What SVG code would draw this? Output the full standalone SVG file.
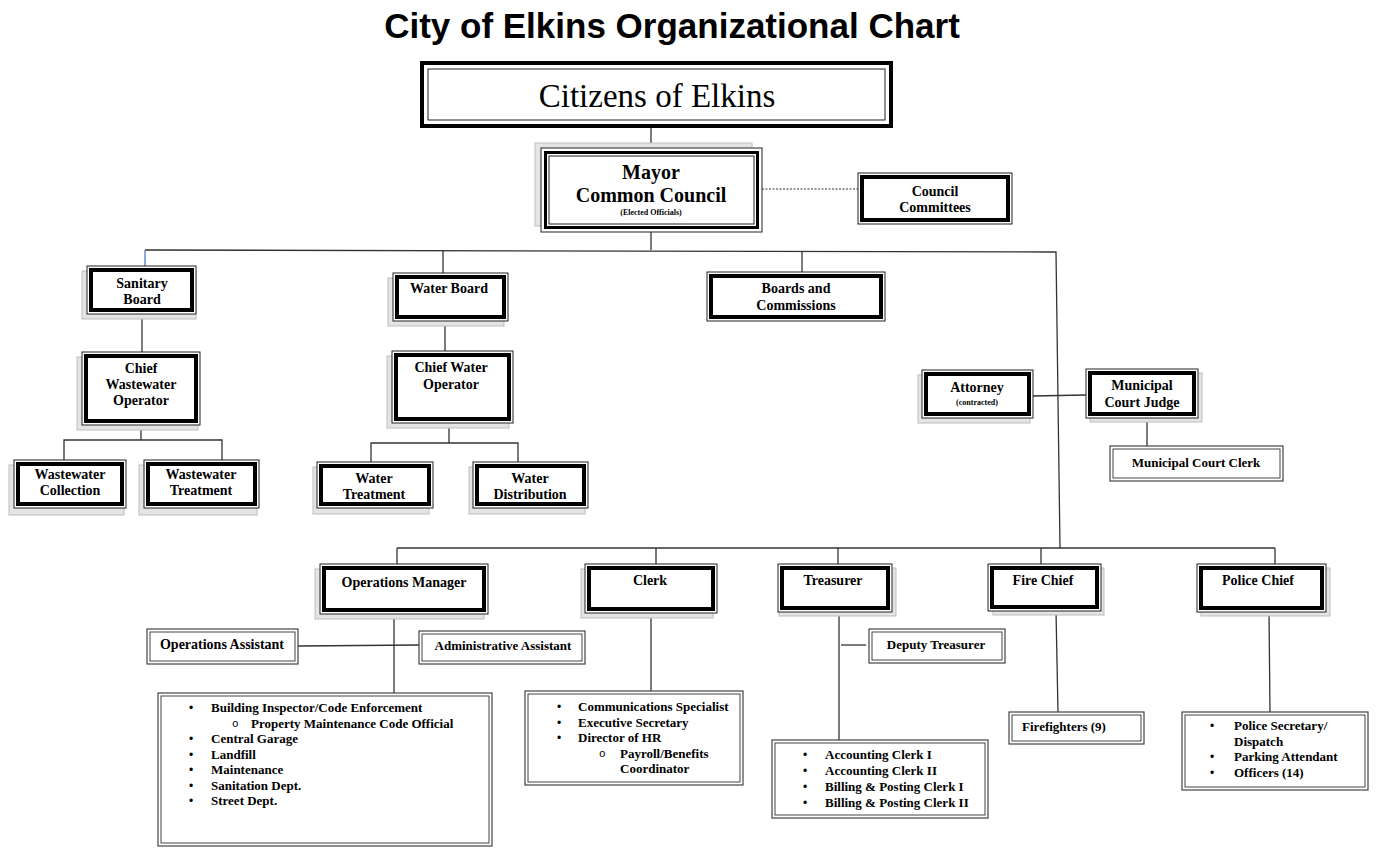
<svg xmlns="http://www.w3.org/2000/svg" width="1377" height="848" viewBox="0 0 1377 848">
<style>
.bg{fill:#fff}
.o{fill:#fff;stroke:#222;stroke-width:1}
.k{fill:none;stroke:#000;stroke-width:4}
.t{fill:none;stroke:#222;stroke-width:1}
.sh{fill:#e4e4e4;stroke:#bdbdbd;stroke-width:1}
.d{fill:#fff;stroke:#444;stroke-width:1.2}
.di{fill:none;stroke:#444;stroke-width:1}
.ln{fill:none;stroke:#333;stroke-width:1.3}
.dot{fill:none;stroke:#333;stroke-width:1;stroke-dasharray:2 1.5}
.n{font-family:"Liberation Serif","Times New Roman",serif;font-weight:bold;font-size:14px;text-anchor:middle;fill:#000}
.s{font-family:"Liberation Serif","Times New Roman",serif;font-weight:bold;font-size:13px;fill:#000}
.sm{text-anchor:middle}
.big{font-size:20px}
.tiny{font-size:8px}
.b{font-family:"Liberation Sans",Arial,sans-serif;font-size:12px;fill:#000}
.c{font-family:"Liberation Mono","Courier New",monospace;font-size:11px;fill:#000}
.title{font-family:"Liberation Sans",Arial,sans-serif;font-weight:bold;font-size:35px;text-anchor:middle;fill:#000}
.cit{font-family:"Liberation Serif","Times New Roman",serif;font-size:33px;text-anchor:middle;fill:#000}
</style>
<rect class="bg" x="0" y="0" width="1377" height="848"/>
<text class="title" x="672" y="38">City of Elkins Organizational Chart</text>

<g id="connectors">
<line class="ln" x1="651" y1="128" x2="651" y2="148"/>
<line class="ln" x1="651" y1="232" x2="651" y2="250"/>
<line class="dot" x1="762" y1="189" x2="858" y2="189"/>
<polyline class="ln" points="145,250 1056,252 1060,548"/>
<line x1="145" y1="250" x2="145" y2="266" stroke="#4a7fc1" stroke-width="1.3"/>
<line class="ln" x1="443" y1="250" x2="443" y2="273"/>
<line class="ln" x1="802" y1="251" x2="802" y2="272"/>
<line class="ln" x1="142" y1="314" x2="142" y2="352"/>
<line class="ln" x1="141" y1="425" x2="141" y2="440"/>
<polyline class="ln" points="64,460 64,440 222,440 222,460"/>
<line class="ln" x1="445" y1="321" x2="445" y2="351"/>
<line class="ln" x1="449" y1="423" x2="449" y2="443"/>
<polyline class="ln" points="371,462 371,443 518,443 518,462"/>
<line class="ln" x1="1033" y1="396" x2="1086" y2="395"/>
<line class="ln" x1="1147" y1="418" x2="1147" y2="446"/>
<line class="ln" x1="397" y1="548" x2="1275" y2="548"/>
<line class="ln" x1="397" y1="548" x2="397" y2="564"/>
<line class="ln" x1="656" y1="548" x2="656" y2="564"/>
<line class="ln" x1="838" y1="548" x2="838" y2="564"/>
<line class="ln" x1="1041" y1="548" x2="1041" y2="564"/>
<line class="ln" x1="1275" y1="548" x2="1275" y2="564"/>
<line class="ln" x1="394" y1="614" x2="394" y2="693"/>
<line class="ln" x1="298" y1="646" x2="419" y2="645"/>
<line class="ln" x1="651" y1="613" x2="651" y2="691"/>
<line class="ln" x1="839" y1="612" x2="839" y2="740"/>
<line class="ln" x1="841" y1="645" x2="866" y2="645"/>
<line class="ln" x1="1056" y1="611" x2="1058" y2="712"/>
<line class="ln" x1="1269" y1="612" x2="1270" y2="712"/>
</g>

<g id="citizens">
<rect x="422" y="63" width="469" height="63" fill="#fff" stroke="#000" stroke-width="4"/>
<rect class="t" x="428" y="69" width="457" height="51"/>
<text class="cit" x="657" y="107">Citizens of Elkins</text>
</g>

<g id="mayor">
<rect class="sh" x="535" y="143" width="217" height="83"/>
<rect class="o" x="541" y="148" width="221" height="84"/>
<rect fill="none" stroke="#000" stroke-width="3" x="545.5" y="152.5" width="212" height="75"/>
<rect class="t" x="549" y="156" width="205" height="68"/>
<text class="n big" x="651" y="179">Mayor</text>
<text class="n big" x="651" y="202">Common Council</text>
<text class="n tiny" x="651" y="215">(Elected Officials)</text>
</g>

<g id="council-committees">
<rect class="o" x="858" y="173" width="154" height="51"/>
<rect class="k" x="862" y="177" width="146" height="43"/>
<text class="n" x="935" y="196">Council</text>
<text class="n" x="935" y="212">Committees</text>
</g>

<g id="sanitary-board">
<rect class="sh" x="82" y="271" width="114" height="48"/>
<rect class="o" x="87" y="266" width="109" height="48"/>
<rect class="k" x="91" y="270" width="101" height="40"/>
<text class="n" x="142" y="288">Sanitary</text>
<text class="n" x="142" y="304">Board</text>
</g>

<g id="chief-wastewater">
<rect class="sh" x="77" y="357" width="121" height="73"/>
<rect class="o" x="82" y="352" width="118" height="73"/>
<rect class="k" x="86" y="356" width="110" height="65"/>
<text class="n" x="141" y="373">Chief</text>
<text class="n" x="141" y="389">Wastewater</text>
<text class="n" x="141" y="405">Operator</text>
</g>

<g id="wastewater-collection">
<rect class="sh" x="9" y="465" width="115" height="50"/>
<rect class="o" x="14" y="460" width="112" height="48"/>
<rect class="k" x="18" y="464" width="104" height="40"/>
<text class="n" x="70" y="479">Wastewater</text>
<text class="n" x="70" y="495">Collection</text>
</g>

<g id="wastewater-treatment">
<rect class="sh" x="139" y="465" width="118" height="50"/>
<rect class="o" x="144" y="460" width="115" height="48"/>
<rect class="k" x="148" y="464" width="107" height="40"/>
<text class="n" x="201" y="479">Wastewater</text>
<text class="n" x="201" y="495">Treatment</text>
</g>

<g id="water-board">
<rect class="sh" x="388" y="278" width="116" height="48"/>
<rect class="o" x="393" y="273" width="115" height="48"/>
<rect class="k" x="397" y="277" width="107" height="40"/>
<text class="n" x="449" y="293">Water Board</text>
</g>

<g id="chief-water">
<rect class="sh" x="387" y="356" width="122" height="72"/>
<rect class="o" x="392" y="351" width="121" height="72"/>
<rect class="k" x="396" y="355" width="113" height="64"/>
<text class="n" x="451" y="372">Chief Water</text>
<text class="n" x="451" y="389">Operator</text>
</g>

<g id="water-treatment">
<rect class="sh" x="313" y="467" width="116" height="47"/>
<rect class="o" x="317" y="462" width="116" height="46"/>
<rect class="k" x="321" y="466" width="108" height="38"/>
<text class="n" x="374" y="483">Water</text>
<text class="n" x="374" y="499">Treatment</text>
</g>

<g id="water-distribution">
<rect class="sh" x="469" y="467" width="116" height="47"/>
<rect class="o" x="473" y="462" width="115" height="46"/>
<rect class="k" x="477" y="466" width="107" height="38"/>
<text class="n" x="530" y="483">Water</text>
<text class="n" x="530" y="499">Distribution</text>
</g>

<g id="boards-commissions">
<rect class="o" x="707" y="272" width="178" height="49"/>
<rect class="k" x="711" y="276" width="170" height="41"/>
<text class="n" x="796" y="293">Boards and</text>
<text class="n" x="796" y="310">Commissions</text>
</g>

<g id="attorney">
<rect class="sh" x="918" y="375" width="112" height="48"/>
<rect class="o" x="922" y="370" width="111" height="48"/>
<rect class="k" x="926" y="374" width="103" height="40"/>
<text class="n" x="977" y="392">Attorney</text>
<text class="n tiny" x="977" y="405">(contracted)</text>
</g>

<g id="municipal-court-judge">
<rect class="sh" x="1090" y="373" width="112" height="49"/>
<rect class="o" x="1086" y="369" width="112" height="49"/>
<rect class="k" x="1090" y="373" width="104" height="41"/>
<text class="n" x="1142" y="390">Municipal</text>
<text class="n" x="1142" y="407">Court Judge</text>
</g>

<g id="municipal-court-clerk">
<rect class="d" x="1110" y="446" width="173" height="35"/>
<rect class="di" x="1113" y="449" width="167" height="29"/>
<text class="s sm" x="1196" y="467">Municipal Court Clerk</text>
</g>

<g id="operations-manager">
<rect class="sh" x="315" y="569" width="169" height="50"/>
<rect class="o" x="320" y="564" width="168" height="50"/>
<rect class="k" x="324" y="568" width="160" height="42"/>
<text class="n" x="404" y="587">Operations Manager</text>
</g>

<g id="clerk">
<rect class="sh" x="581" y="569" width="132" height="49"/>
<rect class="o" x="585" y="564" width="132" height="49"/>
<rect class="k" x="589" y="568" width="124" height="41"/>
<text class="n" x="650" y="585">Clerk</text>
</g>

<g id="treasurer">
<rect class="sh" x="779" y="568" width="117" height="48"/>
<rect class="o" x="778" y="564" width="114" height="48"/>
<rect class="k" x="782" y="568" width="106" height="40"/>
<text class="n" x="833" y="585">Treasurer</text>
</g>

<g id="fire-chief">
<rect class="sh" x="993" y="568" width="111" height="47"/>
<rect class="o" x="988" y="564" width="113" height="47"/>
<rect class="k" x="992" y="568" width="105" height="39"/>
<text class="n" x="1043" y="585">Fire Chief</text>
</g>

<g id="police-chief">
<rect class="sh" x="1201" y="568" width="129" height="48"/>
<rect class="o" x="1197" y="564" width="129" height="48"/>
<rect class="k" x="1201" y="568" width="121" height="40"/>
<text class="n" x="1258" y="585">Police  Chief</text>
</g>

<g id="operations-assistant">
<rect class="d" x="147" y="629" width="151" height="35"/>
<rect class="di" x="150" y="632" width="145" height="29"/>
<text class="n" x="222" y="649">Operations Assistant</text>
</g>

<g id="administrative-assistant">
<rect class="d" x="419" y="631" width="166" height="33"/>
<rect class="di" x="422" y="634" width="160" height="27"/>
<text class="s sm" x="503" y="650">Administrative Assistant</text>
</g>

<g id="deputy-treasurer">
<rect class="d" x="869" y="629" width="136" height="34"/>
<rect class="di" x="872" y="632" width="130" height="28"/>
<text class="s sm" x="936" y="649">Deputy Treasurer</text>
</g>

<g id="operations-list">
<rect class="d" x="158" y="693" width="334" height="153"/>
<rect class="di" x="161" y="696" width="328" height="147"/>
<text class="b" x="189" y="712">•</text><text class="s" x="211" y="712">Building Inspector/Code Enforcement</text>
<text class="c" x="232" y="727">o</text><text class="s" x="251" y="727.5">Property Maintenance Code Official</text>
<text class="b" x="189" y="743">•</text><text class="s" x="211" y="743">Central Garage</text>
<text class="b" x="189" y="758.5">•</text><text class="s" x="211" y="758.5">Landfill</text>
<text class="b" x="189" y="774">•</text><text class="s" x="211" y="774">Maintenance</text>
<text class="b" x="189" y="789.5">•</text><text class="s" x="211" y="789.5">Sanitation Dept.</text>
<text class="b" x="189" y="805">•</text><text class="s" x="211" y="805">Street Dept.</text>
</g>

<g id="clerk-list">
<rect class="d" x="525" y="691" width="218" height="94"/>
<rect class="di" x="528" y="694" width="212" height="88"/>
<text class="b" x="557" y="711">•</text><text class="s" x="578" y="711">Communications Specialist</text>
<text class="b" x="557" y="727">•</text><text class="s" x="578" y="727">Executive Secretary</text>
<text class="b" x="557" y="742">•</text><text class="s" x="578" y="742">Director of HR</text>
<text class="c" x="599" y="757">o</text><text class="s" x="620" y="758">Payroll/Benefits</text>
<text class="s" x="620" y="773">Coordinator</text>
</g>

<g id="treasurer-list">
<rect class="d" x="772" y="740" width="216" height="78"/>
<rect class="di" x="775" y="743" width="210" height="72"/>
<text class="b" x="803" y="759">•</text><text class="s" x="825" y="759">Accounting Clerk I</text>
<text class="b" x="803" y="775">•</text><text class="s" x="825" y="775">Accounting Clerk II</text>
<text class="b" x="803" y="791">•</text><text class="s" x="825" y="791">Billing &amp; Posting Clerk I</text>
<text class="b" x="803" y="807">•</text><text class="s" x="825" y="807">Billing &amp; Posting Clerk II</text>
</g>

<g id="firefighters">
<rect class="d" x="1009" y="712" width="135" height="32"/>
<rect class="di" x="1012" y="715" width="129" height="26"/>
<text class="s sm" x="1064" y="731">Firefighters (9)</text>
</g>

<g id="police-list">
<rect class="d" x="1182" y="712" width="186" height="78"/>
<rect class="di" x="1185" y="715" width="180" height="72"/>
<text class="b" x="1210" y="730">•</text><text class="s" x="1234" y="730">Police Secretary/</text>
<text class="s" x="1234" y="746">Dispatch</text>
<text class="b" x="1210" y="761">•</text><text class="s" x="1234" y="761">Parking Attendant</text>
<text class="b" x="1210" y="777">•</text><text class="s" x="1234" y="777">Officers (14)</text>
</g>
</svg>
